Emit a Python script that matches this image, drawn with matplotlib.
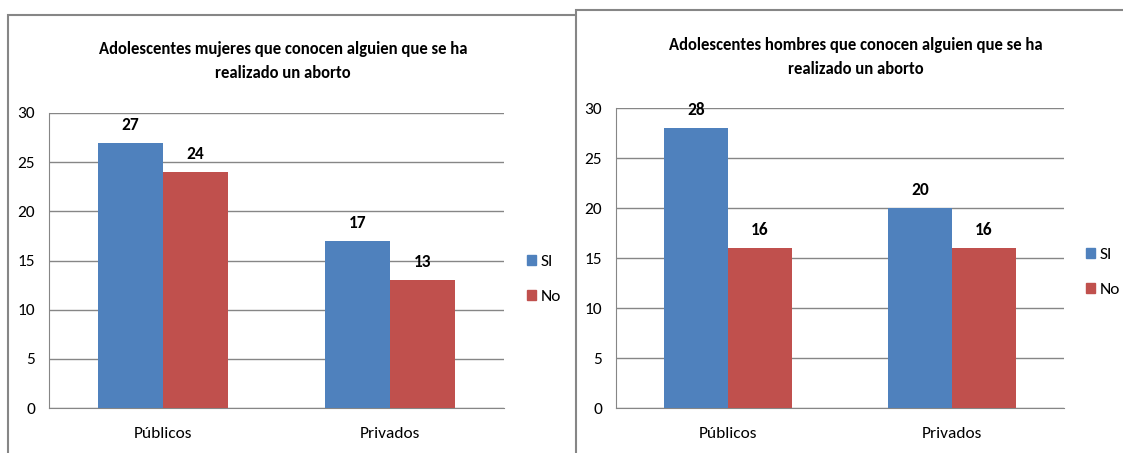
import matplotlib.pyplot as plt
from matplotlib.patches import Rectangle
import numpy as np

categories = ['Públicos', 'Privados']
series_names = ['SI', 'No']
mujeres_si = [27, 17]
mujeres_no = [24, 13]
hombres_si = [28, 20]
hombres_no = [16, 16]
title_mujeres = 'Adolescentes mujeres que conocen alguien que se ha\nrealizado un aborto'
title_hombres = 'Adolescentes hombres que conocen alguien que se ha\nrealizado un aborto'

BLUE = '#4F81BD'
RED = '#C0504D'
GRID = '#868686'
W, H = 1123, 453

plt.rcParams['font.family'] = ['Carlito', 'DejaVu Sans']

fig = plt.figure(figsize=(W / 100, H / 100), dpi=100)


def px_box(x0, y0, x1, y1):
    # pixel coords (top-left origin) -> figure fraction [l, b, w, h]
    return [x0 / W, 1 - y1 / H, (x1 - x0) / W, (y1 - y0) / H]


def draw_chart(ax_box, si, no, title, title_xy, legend_xy):
    ax = fig.add_axes(px_box(*ax_box))
    ax.set_zorder(2)
    ax.patch.set_alpha(0)
    x = np.arange(len(categories))
    bw = 0.285
    b1 = ax.bar(x - bw / 2, si, bw, color=BLUE, zorder=3)
    b2 = ax.bar(x + bw / 2, no, bw, color=RED, zorder=3)
    for bars in (b1, b2):
        for b in bars:
            ax.text(b.get_x() + b.get_width() / 2, b.get_height() + 1.0, f'{int(b.get_height())}',
                    ha='center', va='bottom', fontsize=12.5, fontweight='bold')
    ax.set_xlim(-0.5, len(categories) - 0.5)
    ax.set_ylim(0, 30)
    ax.set_yticks(range(0, 31, 5))
    ax.set_xticks(x)
    ax.set_xticklabels(categories, fontsize=12.5)
    ax.tick_params(axis='y', labelsize=12.5, length=0, pad=10)
    ax.tick_params(axis='x', length=0, pad=14)
    ax.yaxis.grid(True, color=GRID, linewidth=1)
    ax.set_axisbelow(True)
    for s in ['top', 'right']:
        ax.spines[s].set_visible(False)
    for s in ['left', 'bottom']:
        ax.spines[s].set_color(GRID)
    t = fig.text(title_xy[0] / W, 1 - title_xy[1] / H, title, ha='center', va='center',
                 fontsize=12, fontweight='bold', linespacing=1.65)
    t.set_zorder(3)
    handles = [Rectangle((0, 0), 1, 1, color=BLUE), Rectangle((0, 0), 1, 1, color=RED)]
    leg = fig.legend(handles, series_names, loc='upper left',
                     bbox_to_anchor=(legend_xy[0] / W, 1 - legend_xy[1] / H),
                     frameon=False, fontsize=12.5, handlelength=0.55, handleheight=0.55,
                     handletextpad=0.25, labelspacing=1.2)
    leg.set_zorder(3)
    return ax


# chart frames
fig.add_artist(Rectangle((8 / W, -0.1), 600 / W, 1.1 - 15 / H, transform=fig.transFigure,
                         facecolor='white', edgecolor=GRID, linewidth=1.5, zorder=0))
fig.add_artist(Rectangle((576 / W, -0.1), 600 / W, 1.1 - 10 / H, transform=fig.transFigure,
                         facecolor='white', edgecolor=GRID, linewidth=1.5, zorder=1))

draw_chart((49, 113, 504, 408), mujeres_si, mujeres_no, title_mujeres, (283, 61), (511, 239))
draw_chart((616, 108, 1064, 408), hombres_si, hombres_no, title_hombres, (856, 57), (1070, 232))

fig.savefig('out.png', dpi=100)
